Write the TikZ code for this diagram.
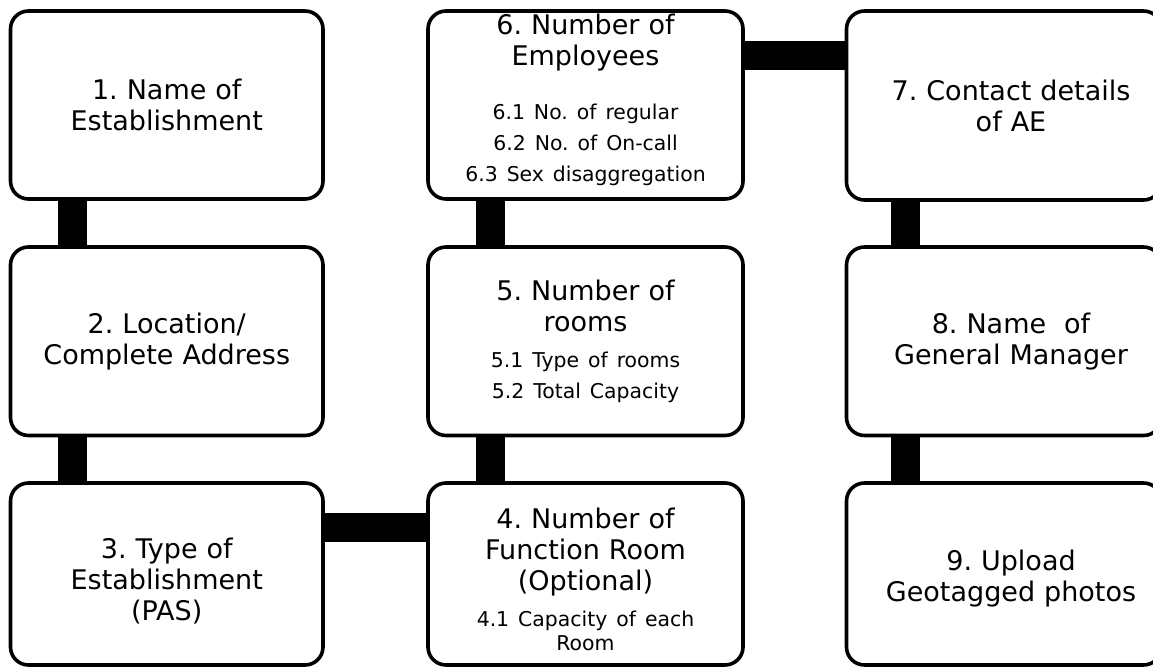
\documentclass[tikz,border=0pt]{standalone}
\usepackage{fontspec}
\setmainfont{DejaVu Sans}
\usetikzlibrary{calc}
\frenchspacing
\newcommand\mainf{\fontsize{27}{31}\selectfont\frenchspacing}
\newcommand\subf{\fontsize{20.4}{23.5}\selectfont\frenchspacing}
\begin{document}
\begin{tikzpicture}[x=1pt,y=-1pt,
  box/.style={draw=black, line width=3.6pt, rounded corners=18pt, inner sep=0pt},
  txt/.style={inner sep=0pt, text width=305pt, align=center, font=\mainf},
  bar/.style={draw=black, line width=29pt}]
\useasboundingbox (0,0) rectangle (1153,668);
\fill[white] (0,0) rectangle (1153,668);
% boxes (stroke centres): col x 10.5-323, 428-743, 846.5-1161.5 ; rows y 11-199, 247-435.5, 483-665
\node[box, minimum width=312.5pt, minimum height=188pt]   (b1) at (166.75,105) {};
\node[box, minimum width=312.5pt, minimum height=188.5pt] (b2) at (166.75,341.25) {};
\node[box, minimum width=312.5pt, minimum height=182pt]   (b3) at (166.75,574) {};
\node[box, minimum width=315pt, minimum height=182pt]     (b4) at (585.5,574) {};
\node[box, minimum width=315pt, minimum height=188.5pt]   (b5) at (585.5,341.25) {};
\node[box, minimum width=315pt, minimum height=188pt]     (b6) at (585.5,105) {};
\node[box, minimum width=315pt, minimum height=189pt]     (b7) at (1004,105.5) {};
\node[box, minimum width=315pt, minimum height=188.5pt]   (b8) at (1004,341.25) {};
\node[box, minimum width=315pt, minimum height=182pt]     (b9) at (1004,574) {};
% texts
\node[txt] (t1) at (b1.center) {1. Name of\\Establishment};
\node[txt] (t2) at (b2.center) {2. Location/\\Complete Address};
\node[txt] (t3) at ($(b3.center)+(0,7)$) {3. Type of\\Establishment\\(PAS)};
\node[txt] (t4) at ($(b4.center)+(0,5)$)
  {4. Number of\\Function Room\\(Optional)\par\vspace{13pt}{\subf 4.1 Capacity of each\\Room\par}};
\node[txt] (t5) at (b5.center)
  {5. Number of\\rooms\par\vspace{13pt}{\subf 5.1 Type of rooms\par}\vspace{7.5pt}{\subf 5.2 Total Capacity\par}};
\node[txt] (t6) at ($(b6.center)+(0,-5)$)
  {6. Number of\\Employees\par\vspace{31pt}{\subf 6.1 No. of regular\par}\vspace{7.5pt}{\subf 6.2 No. of On-call\par}\vspace{7.5pt}{\subf 6.3 Sex disaggregation\par}};
\node[txt] (t7) at ($(b7.center)+(7,0)$) {7. Contact details\\of AE};
\node[txt] (t8) at ($(b8.center)+(7,0)$) {8. Name\ \ of\\General Manager};
\node[txt] (t9) at ($(b9.center)+(7,5)$) {9. Upload\\Geotagged photos};
% connectors
\draw[bar] ($(b1.south west)+(64,0)$) -- ($(b2.north west)+(64,0)$);
\draw[bar] ($(b2.south west)+(64,0)$) -- ($(b3.north west)+(64,0)$);
\draw[bar] ($(b6.south west)+(64,0)$) -- ($(b5.north west)+(64,0)$);
\draw[bar] ($(b5.south west)+(64,0)$) -- ($(b4.north west)+(64,0)$);
\draw[bar] ($(b7.south west)+(61,0)$) -- ($(b8.north west)+(61,0)$);
\draw[bar] ($(b8.south west)+(61,0)$) -- ($(b9.north west)+(61,0)$);
\draw[bar] ($(b3.north east)+(0,46)$) -- ($(b4.north west)+(0,46)$);
\draw[bar] ($(b6.north east)+(0,46)$) -- ($(b7.north west)+(0,46)$);
\end{tikzpicture}
\end{document}
